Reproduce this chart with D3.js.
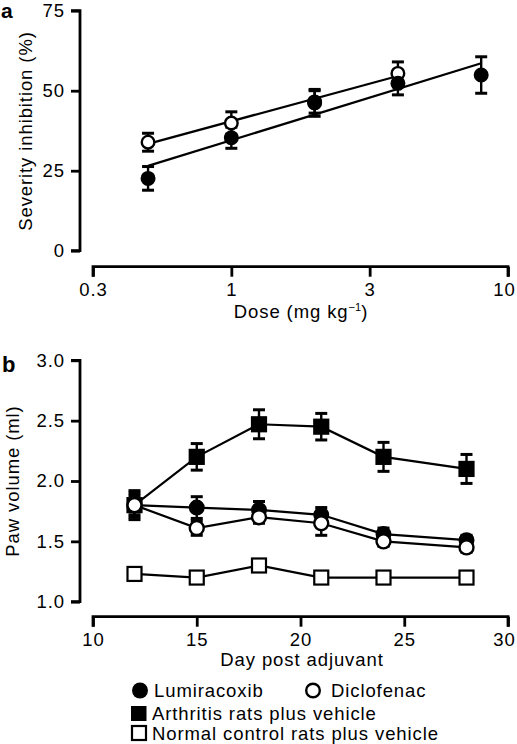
<!DOCTYPE html>
<html><head><meta charset="utf-8">
<script src="https://cdn.jsdelivr.net/npm/d3@7"></script>
<style>
html,body{margin:0;padding:0;background:#fff;}
svg{display:block;font-family:"Liberation Sans",Arial,Helvetica,sans-serif;}
</style></head>
<body>
<svg id="chart" width="517" height="744"></svg>
<script>
// ---------- Panel a data ----------
const dosesLumi = [0.5, 1, 2, 4, 8];
const lumiA = [22.6, 35.3, 46.2, 52.3, 54.9];
const lumiAErr = [3.7, 3.3, 4.2, 3.6, 5.7];
const dosesDiclo = [0.5, 1, 2, 4];
const dicloA = [33.9, 39.9, 46.5, 55.4];
const dicloAErr = [2.8, 3.5, 3.5, 3.6];
const lumiFitDose = [0.5, 8];
const lumiFit = [26.5, 58.6];
const dicloFitDose = [0.5, 4];
const dicloFit = [33.4, 54.6];
const aYTicks = [0, 25, 50, 75];
const aXTicks = [0.3162, 1, 3.162, 10];
const aXTickLabels = ["0.3", "1", "3", "10"];

// ---------- Panel b data ----------
const days = [12, 15, 18, 21, 24, 28];
const arthritis = [1.80, 2.20, 2.47, 2.45, 2.20, 2.10];
const arthritisErr = [0.12, 0.11, 0.12, 0.11, 0.12, 0.12];
const lumiB = [1.80, 1.78, 1.76, 1.72, 1.56, 1.51];
const lumiBErr = [0.08, 0.09, 0.07, 0.06, 0.05, 0.04];
const dicloB = [1.80, 1.61, 1.70, 1.65, 1.50, 1.45];
const dicloBErr = [0.10, 0.06, 0.05, 0.10, 0.04, 0.04];
const normal = [1.23, 1.20, 1.30, 1.20, 1.20, 1.20];
const bYTicks = [1.0, 1.5, 2.0, 2.5, 3.0];
const bXTicks = [10, 15, 20, 25, 30];
const legendLabels = ["Lumiracoxib", "Diclofenac", "Arthritis rats plus vehicle", "Normal control rats plus vehicle"];

const svg = d3.select("#chart");
const FS = 18.5;
const LS = "0.9px";

function styleAxis(ax) {
  ax.select(".domain").attr("stroke", "#000").attr("stroke-width", 2.8);
  ax.selectAll(".tick line").attr("stroke", "#000").attr("stroke-width", 2.8);
  ax.selectAll(".tick text").attr("fill", "#000").style("font-size", FS + "px")
    .style("letter-spacing", LS).style("font-family", "Liberation Sans, Arial, sans-serif");
}
function txt(g, x, y, s) {
  return g.append("text").attr("x", x).attr("y", y).style("font-size", FS + "px").style("letter-spacing", LS).text(s);
}

// ========== Panel a ==========
const xA = d3.scaleLog().domain([0.3162, 10]).range([93, 508]);
const yA = d3.scaleLinear().domain([0, 75]).range([250.7, 10.7]);

const gA = svg.append("g");
const yAxA = gA.append("g").attr("transform", "translate(80,0)")
  .call(d3.axisLeft(yA).tickValues(aYTicks).tickSize(9).tickPadding(6).tickFormat(d3.format("d")));
const xAxA = gA.append("g").attr("transform", "translate(0,266.7)")
  .call(d3.axisBottom(xA).tickValues(aXTicks).tickSize(10).tickPadding(6).tickFormat((d, i) => aXTickLabels[i]));
styleAxis(yAxA); styleAxis(xAxA);
yAxA.select(".domain").attr("d", `M-9,${yA(75)}H0V${yA(0)}H-9`);
xAxA.select(".domain").attr("d", `M${xA(0.3162)},10V0H${xA(10)}V10`);
xAxA.selectAll(".tick text").filter((d, i) => i === aXTicks.length - 1).attr("dx", -4);

const doseLbl = txt(gA, 301, 318, "Dose (mg kg").attr("text-anchor", "middle");
doseLbl.append("tspan").attr("dy", -7).style("font-size", "11px").style("letter-spacing", "0px").text("−1");
doseLbl.append("tspan").attr("dy", 7).text(")");

txt(gA, 0, 0, "Severity inhibition (%)").attr("transform", "translate(32,131) rotate(-90)").attr("text-anchor", "middle");
gA.append("text").attr("x", 1).attr("y", 18).style("font-size", "21px").style("font-weight", "bold").text("a");

const lineA = d3.line().x(d => xA(d[0])).y(d => yA(d[1]));
gA.append("path").attr("d", lineA(d3.zip(lumiFitDose, lumiFit))).attr("fill", "none").attr("stroke", "#000").attr("stroke-width", 2.2);
gA.append("path").attr("d", lineA(d3.zip(dicloFitDose, dicloFit))).attr("fill", "none").attr("stroke", "#000").attr("stroke-width", 2.2);

function errBars(g, xs, ys, es, xS, yS, cap) {
  const eb = g.append("g").attr("stroke", "#000").attr("stroke-width", 2.4).attr("fill", "none");
  xs.forEach((x, i) => {
    const px = xS(x), top = yS(ys[i] + es[i]), bot = yS(ys[i] - es[i]);
    eb.append("line").attr("x1", px).attr("x2", px).attr("y1", top).attr("y2", bot);
    eb.append("line").attr("x1", px - cap).attr("x2", px + cap).attr("y1", top).attr("y2", top).attr("stroke-width", 3);
    eb.append("line").attr("x1", px - cap).attr("x2", px + cap).attr("y1", bot).attr("y2", bot).attr("stroke-width", 3);
  });
}
function circles(g, xs, ys, xS, yS, filled, r) {
  g.append("g").selectAll("circle").data(xs).join("circle")
    .attr("cx", d => xS(d)).attr("cy", (d, i) => yS(ys[i])).attr("r", r)
    .attr("fill", filled ? "#000" : "#fff").attr("stroke", "#000").attr("stroke-width", 2.4);
}
function squares(g, xs, ys, xS, yS, filled, s) {
  g.append("g").selectAll("rect").data(xs).join("rect")
    .attr("x", d => xS(d) - s / 2).attr("y", (d, i) => yS(ys[i]) - s / 2).attr("width", s).attr("height", s)
    .attr("fill", filled ? "#000" : "#fff").attr("stroke", "#000").attr("stroke-width", 2.2);
}

errBars(gA, dosesDiclo, dicloA, dicloAErr, xA, yA, 6);
errBars(gA, dosesLumi, lumiA, lumiAErr, xA, yA, 6);
circles(gA, dosesDiclo, dicloA, xA, yA, false, 6.3);
circles(gA, dosesLumi, lumiA, xA, yA, true, 6.3);

// ========== Panel b ==========
const xB = d3.scaleLinear().domain([10, 30]).range([93, 508]);
const yB = d3.scaleLinear().domain([1, 3]).range([601.7, 360.3]);
const gB = svg.append("g");
const yAxB = gB.append("g").attr("transform", "translate(80,0)")
  .call(d3.axisLeft(yB).tickValues(bYTicks).tickSize(9).tickPadding(6).tickFormat(d3.format(".1f")));
const xAxB = gB.append("g").attr("transform", "translate(0,616.7)")
  .call(d3.axisBottom(xB).tickValues(bXTicks).tickSize(10).tickPadding(6).tickFormat(d3.format("d")));
styleAxis(yAxB); styleAxis(xAxB);
yAxB.select(".domain").attr("d", `M-9,${yB(3)}H0V${yB(1)}H-9`);
xAxB.select(".domain").attr("d", `M${xB(10)},10V0H${xB(30)}V10`);
xAxB.selectAll(".tick text").filter((d, i) => i === bXTicks.length - 1).attr("dx", -4);

txt(gB, 302, 666, "Day post adjuvant").attr("text-anchor", "middle");
txt(gB, 0, 0, "Paw volume (ml)").attr("transform", "translate(19,481) rotate(-90)").attr("text-anchor", "middle");
gB.append("text").attr("x", 2).attr("y", 372).style("font-size", "22px").style("font-weight", "bold").text("b");

const lineB = ys => d3.line().x(d => xB(d)).y((d, i) => yB(ys[i]))(days);
[arthritis, lumiB, dicloB, normal].forEach(ys => {
  gB.append("path").attr("d", lineB(ys)).attr("fill", "none").attr("stroke", "#000").attr("stroke-width", 2.2);
});
errBars(gB, days, arthritis, arthritisErr, xB, yB, 6);
squares(gB, days, arthritis, xB, yB, true, 14);
errBars(gB, days, lumiB, lumiBErr, xB, yB, 6);
circles(gB, days, lumiB, xB, yB, true, 6.8);
errBars(gB, days, dicloB, dicloBErr, xB, yB, 6);
circles(gB, days, dicloB, xB, yB, false, 7);
squares(gB, days, normal, xB, yB, false, 14);

// legend
const lg = gB.append("g");
lg.append("circle").attr("cx", 140).attr("cy", 690.5).attr("r", 8).attr("fill", "#000");
txt(lg, 154, 696.5, legendLabels[0]);
lg.append("circle").attr("cx", 313).attr("cy", 690.5).attr("r", 6.8).attr("fill", "#fff").attr("stroke", "#000").attr("stroke-width", 2.4);
txt(lg, 331, 696.5, legendLabels[1]);
lg.append("rect").attr("x", 131).attr("y", 706).attr("width", 15.5).attr("height", 15).attr("fill", "#000");
txt(lg, 152, 719.5, legendLabels[2]);
lg.append("rect").attr("x", 132).attr("y", 726).attr("width", 14).attr("height", 14).attr("fill", "#fff").attr("stroke", "#000").attr("stroke-width", 2.2);
txt(lg, 152, 739.5, legendLabels[3]);
</script>
</body></html>
